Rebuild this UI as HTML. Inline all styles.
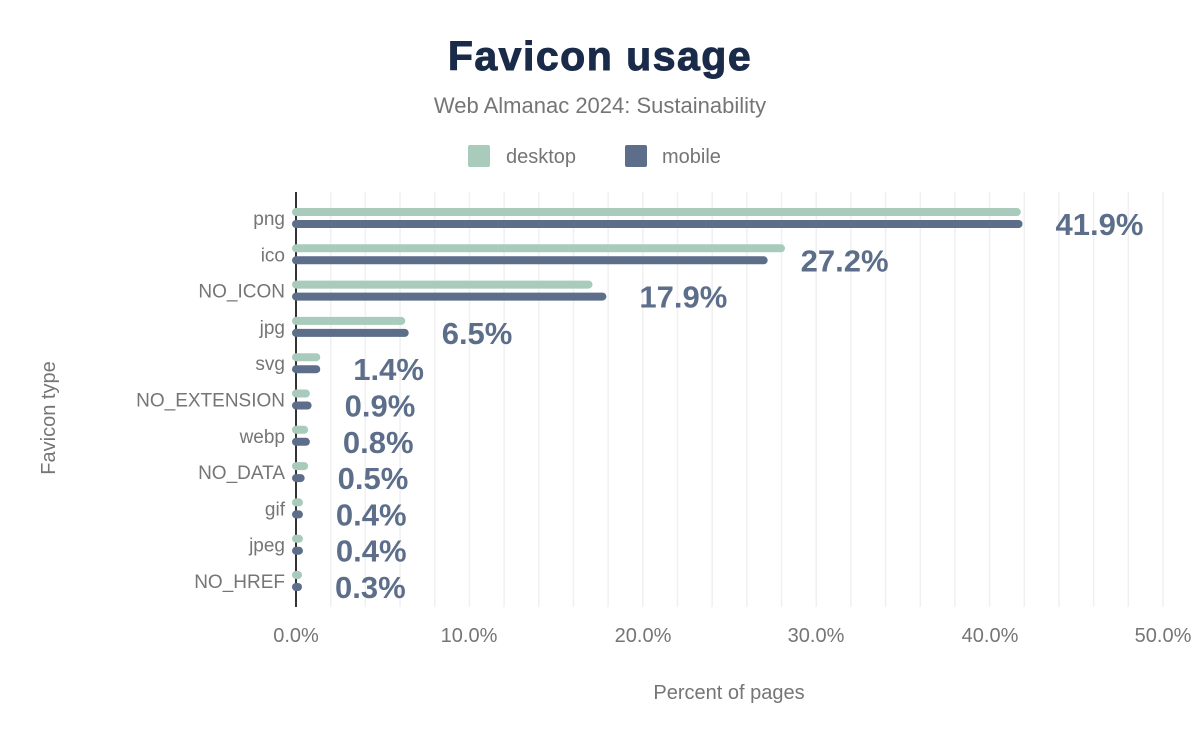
<!DOCTYPE html>
<html><head><style>
body{margin:0;background:#fff;}
svg text{font-family:"Liberation Sans",Arial,sans-serif;}
</style></head><body>
<svg width="1200" height="742" xmlns="http://www.w3.org/2000/svg">
<rect width="1200" height="742" fill="#fff"/>
<text x="600" y="70" text-anchor="middle" font-size="41" font-weight="bold" letter-spacing="1.5" fill="#1a2b49" stroke="#1a2b49" stroke-width="1">Favicon usage</text>
<text x="600" y="113" text-anchor="middle" font-size="22" fill="#757575">Web Almanac 2024: Sustainability</text>
<rect x="468" y="145" width="22" height="22" rx="2" fill="#a8cbbb"/>
<text x="506" y="163" font-size="20" fill="#757575">desktop</text>
<rect x="625" y="145" width="22" height="22" rx="2" fill="#5c6e8a"/>
<text x="662" y="163" font-size="20" fill="#757575">mobile</text>
<g id="grid" stroke="#f0f0f0" stroke-width="1.5"></g>
<line x1="296" y1="192" x2="296" y2="607" stroke="#333" stroke-width="2"/>
<g id="bars"></g>
<g font-size="20" fill="#757575" text-anchor="middle">
<text x="296" y="642">0.0%</text><text x="469" y="642">10.0%</text><text x="643" y="642">20.0%</text><text x="816" y="642">30.0%</text><text x="990" y="642">40.0%</text><text x="1163" y="642">50.0%</text>
</g>
<text x="729" y="699" text-anchor="middle" font-size="20" fill="#757575">Percent of pages</text>
<text transform="translate(55,418) rotate(-90)" text-anchor="middle" font-size="20" fill="#757575">Favicon type</text>
</svg>
<script>
var data=[["png",41.8,41.9],["ico",28.2,27.2],["NO_ICON",17.1,17.9],["jpg",6.3,6.5],["svg",1.4,1.4],["NO_EXTENSION",0.8,0.9],["webp",0.7,0.8],["NO_DATA",0.7,0.5],["gif",0.4,0.4],["jpeg",0.4,0.4],["NO_HREF",0.3,0.3]];
var ns="http://www.w3.org/2000/svg",g=document.getElementById("bars"),gr=document.getElementById("grid");
function el(t,a,p,txt){var e=document.createElementNS(ns,t);for(var k in a)e.setAttribute(k,a[k]);if(txt)e.textContent=txt;p.appendChild(e);return e;}
var s=17.34;
for(var i=1;i<=25;i++){var x=296+i*2*s;el("line",{x1:x,y1:192,x2:x,y2:607},gr);}
data.forEach(function(d,i){var y=218+i*36.3;
el("text",{x:285,y:y+7,"text-anchor":"end","font-size":19,fill:"#757575"},g,d[0]);
var w1=Math.max(d[1]*s,6),w2=Math.max(d[2]*s,6);
el("rect",{x:292,y:y-10,width:w1+4,height:8,rx:4,fill:"#a8cbbb"},g);
el("rect",{x:292,y:y+2,width:w2+4,height:8,rx:4,fill:"#5c6e8a"},g);
el("text",{x:296+Math.max(d[2]*s,6)+33,y:y+17,"font-size":31,"font-weight":"bold",fill:"#5c6e8a"},g,d[2].toFixed(1)+"%");
});
</script>
</body></html>
